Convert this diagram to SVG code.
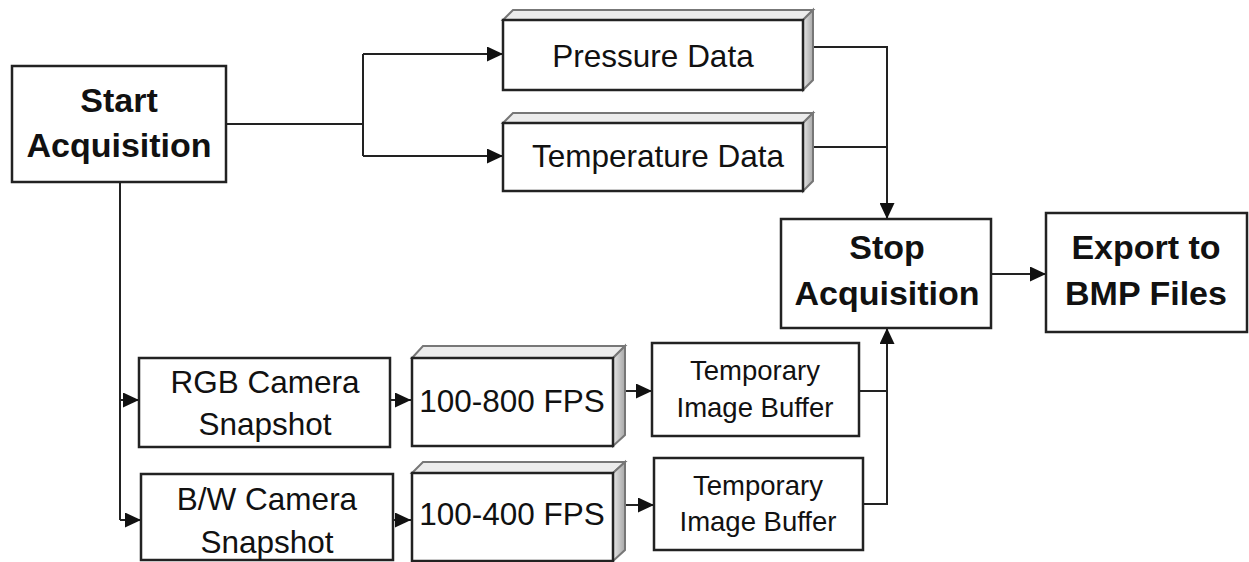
<svg xmlns="http://www.w3.org/2000/svg" width="1249" height="562" viewBox="0 0 1249 562">
<defs>
<marker id="ah" markerUnits="userSpaceOnUse" markerWidth="17" markerHeight="15" refX="16" refY="7.5" orient="auto">
<path d="M0,0 L16,7.5 L0,15 Z" fill="#111"/>
</marker>
<linearGradient id="side" x1="0" y1="0" x2="1" y2="0">
<stop offset="0" stop-color="#e6e6e6"/>
<stop offset="1" stop-color="#a8a8a8"/>
</linearGradient>
<style>
.box{fill:#fff;stroke:#222;stroke-width:2.5}
.top{fill:#ececec;stroke:#777;stroke-width:2}
.sd{fill:url(#side);stroke:#777;stroke-width:2}
.c{fill:none;stroke:#222;stroke-width:2}
.b{font-family:"Liberation Sans",Arial,sans-serif;font-weight:bold;font-size:34px;fill:#111;text-anchor:middle}
.r{font-family:"Liberation Sans",Arial,sans-serif;font-size:31.5px;fill:#111;text-anchor:middle}
.s{font-family:"Liberation Sans",Arial,sans-serif;font-size:27.5px;fill:#111;text-anchor:middle}
</style>
</defs>
<rect width="1249" height="562" fill="#fff"/>
<g id="connectors">
<path class="c" d="M226,124 H363 M363,54 V156"/>
<path class="c" d="M363,54 H503" marker-end="url(#ah)"/>
<path class="c" d="M363,156 H503" marker-end="url(#ah)"/>
<path class="c" d="M120,182 V520"/>
<path class="c" d="M120,400 H139" marker-end="url(#ah)"/>
<path class="c" d="M120,520 H141" marker-end="url(#ah)"/>
<path class="c" d="M813,47 H887 V219" marker-end="url(#ah)"/>
<path class="c" d="M813,147 H887"/>
<path class="c" d="M991,274 H1046" marker-end="url(#ah)"/>
<path class="c" d="M390,400 H411" marker-end="url(#ah)"/>
<path class="c" d="M393,520 H411" marker-end="url(#ah)"/>
<path class="c" d="M625,391 H652" marker-end="url(#ah)"/>
<path class="c" d="M625,505 H654" marker-end="url(#ah)"/>
<path class="c" d="M859,391 H887"/>
<path class="c" d="M863,504 H887 V328" marker-end="url(#ah)"/>
</g>
<g id="start">
<rect class="box" x="12" y="66" width="214" height="116"/>
<text class="b" x="119" y="112">Start</text>
<text class="b" x="119" y="157">Acquisition</text>
</g>
<g id="pressure">
<path class="top" d="M503,20 L513,10 H813 L803,20 Z"/>
<path class="sd" d="M803,20 L813,10 V80 L803,90 Z"/>
<rect class="box" x="503" y="20" width="300" height="70"/>
<text class="r" x="653" y="67">Pressure Data</text>
</g>
<g id="temperature">
<path class="top" d="M503,123 L513,113 H813 L803,123 Z"/>
<path class="sd" d="M803,123 L813,113 V181 L803,191 Z"/>
<rect class="box" x="503" y="123" width="300" height="68"/>
<text class="r" x="658" y="167">Temperature Data</text>
</g>
<g id="stop">
<rect class="box" x="781" y="219" width="210" height="109"/>
<text class="b" x="887" y="259">Stop</text>
<text class="b" x="887" y="305">Acquisition</text>
</g>
<g id="export">
<rect class="box" x="1046" y="213" width="201" height="119"/>
<text class="b" x="1146" y="259">Export to</text>
<text class="b" x="1146" y="305">BMP Files</text>
</g>
<g id="rgb">
<rect class="box" x="139" y="358" width="251" height="89"/>
<text class="r" x="265" y="393">RGB Camera</text>
<text class="r" x="265" y="435">Snapshot</text>
</g>
<g id="bw">
<rect class="box" x="141" y="474" width="252" height="86"/>
<text class="r" x="267" y="510">B/W Camera</text>
<text class="r" x="267" y="553">Snapshot</text>
</g>
<g id="fps800">
<path class="top" d="M412,358 L423,346 H625 L613,358 Z"/>
<path class="sd" d="M613,358 L625,346 V435 L613,446 Z"/>
<rect class="box" x="412" y="358" width="201" height="88"/>
<text class="r" x="512" y="412">100-800 FPS</text>
</g>
<g id="fps400">
<path class="top" d="M412,473 L423,462 H625 L613,473 Z"/>
<path class="sd" d="M613,473 L625,462 V550 L613,561 Z"/>
<rect class="box" x="412" y="473" width="201" height="88"/>
<text class="r" x="512" y="525">100-400 FPS</text>
</g>
<g id="buffer1">
<rect class="box" x="652" y="343" width="207" height="93"/>
<text class="s" x="755" y="380">Temporary</text>
<text class="s" x="755" y="417">Image Buffer</text>
</g>
<g id="buffer2">
<rect class="box" x="654" y="458" width="209" height="92"/>
<text class="s" x="758" y="495">Temporary</text>
<text class="s" x="758" y="531">Image Buffer</text>
</g>
</svg>
